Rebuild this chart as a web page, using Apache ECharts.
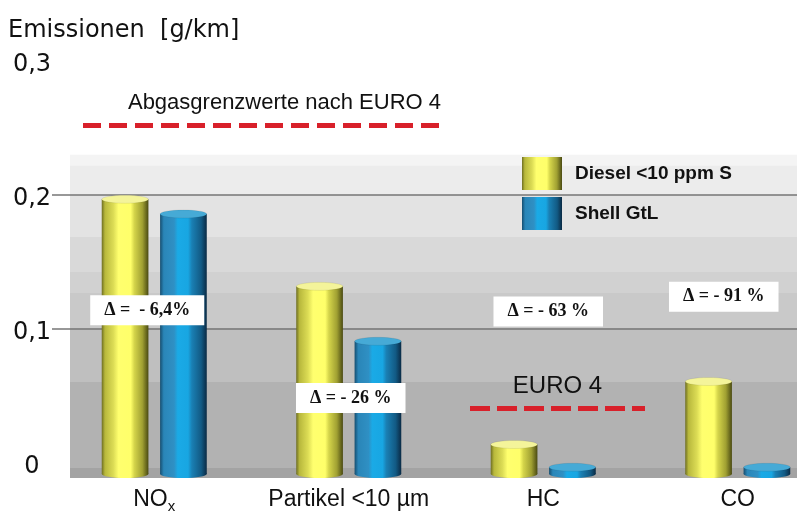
<!DOCTYPE html>
<html lang="de">
<head>
<meta charset="UTF-8">
<title>Emissionen Diesel vs. Shell GtL</title>
<script src="https://cdn.jsdelivr.net/npm/echarts@6/dist/echarts.min.js"></script>
<style>
html, body { margin: 0; padding: 0; background: #fff; }
#chart { width: 797px; height: 529px; }
</style>
</head>
<body>
<div id="chart"></div>
<script>
// data
const categories = ['NOx', 'Partikel <10 µm', 'HC', 'CO'];
const seriesNames = ['Diesel <10 ppm S', 'Shell GtL'];
const diesel = [0.211, 0.146, 0.028, 0.075];
const shell = [0.200, 0.105, 0.011, 0.011];
const yTicks = [0, 0.1, 0.2, 0.3];
const gridValues = [0.1, 0.2];
const deltaTexts = ['Δ =  - 6,4%', 'Δ = - 26 %', 'Δ = - 63 %', 'Δ = - 91 %'];
const deltaY = [0.114, 0.0485, 0.113, 0.124];
const euro4Nox = 0.252;
const euro4Low = 0.041;
const yMin = -0.0112;

// layout helpers (not data)
const labelShift = [-7, 2, 5, -14];
const bandEdges = [0.23, 0.222, 0.2, 0.1687, 0.1425, 0.1269, 0.1007, 0.0604, -0.0037, yMin];
const bandColors = ['#f4f4f4', '#ececec', '#e3e3e3', '#d9d9d9', '#d1d1d1', '#c9c9c9', '#bfbfbf', '#b2b2b2', '#a3a3a3'];

const yellowGrad = {
type: 'linear', x: 0, y: 0, x2: 1, y2: 0,
colorStops: [
{ offset: 0, color: '#6e6e22' }, { offset: 0.07, color: '#b8b83c' },
{ offset: 0.25, color: '#dcdc55' }, { offset: 0.36, color: '#ffff6e' },
{ offset: 0.62, color: '#ffff6a' }, { offset: 0.7, color: '#d4d44a' },
{ offset: 0.87, color: '#a0a032' }, { offset: 1, color: '#4a4a12' }
]
};
const blueGrad = {
type: 'linear', x: 0, y: 0, x2: 1, y2: 0,
colorStops: [
{ offset: 0, color: '#164e70' }, { offset: 0.08, color: '#2a86b8' },
{ offset: 0.3, color: '#2f90c4' }, { offset: 0.38, color: '#1aaae6' },
{ offset: 0.6, color: '#18a6e2' }, { offset: 0.68, color: '#1a80b4' },
{ offset: 0.88, color: '#125a84' }, { offset: 1, color: '#0a2a44' }
]
};
const yellowCap = '#f4f49a';
const blueCap = '#46aad6';

function cylinder(side, grad, cap) {
return function (params, api) {
const cat = api.value(0);
const val = api.value(1);
const band = api.size([1, 0])[0];
const w = band * 0.24;
const cx = api.coord([cat, 0])[0] + side * band * 0.15;
const base = api.coord([cat, 0])[1];
const depth = api.coord([cat, yMin])[1] - base;
const yTop = api.coord([cat, val])[1] + depth;
const yBot = base + depth;
const ry = 4;
return {
type: 'group',
children: [
{ type: 'ellipse', shape: { cx: cx, cy: yBot - ry, rx: w / 2, ry: ry }, style: { fill: grad } },
{ type: 'rect', shape: { x: cx - w / 2, y: yTop + ry, width: w, height: Math.max(yBot - yTop - 2 * ry, 0) }, style: { fill: grad } },
{ type: 'ellipse', shape: { cx: cx, cy: yTop + ry, rx: w / 2, ry: ry }, style: { fill: cap, stroke: 'rgba(0,0,0,0.15)', lineWidth: 0.5 } }
]
};
};
}

const bands = bandColors.map((c, i) => [
{ x: 70, yAxis: bandEdges[i], itemStyle: { color: c, opacity: 1 } },
{ yAxis: bandEdges[i + 1] }
]);

const gridLines = gridValues.map(v => [
{ x: 52, yAxis: v, lineStyle: { color: '#767676', width: 1.5, type: 'solid' }, label: { show: false } },
{ x: 797, yAxis: v }
]);

const chart = echarts.init(document.getElementById('chart'));
chart.setOption({
animation: false,
backgroundColor: '#fff',
title: {
text: 'Emissionen  [g/km]',
left: 8, top: 19, padding: 0,
textStyle: { fontFamily: 'DejaVu Sans', fontSize: 24, fontWeight: 'normal', color: '#111' }
},
legend: {
data: seriesNames,
orient: 'vertical',
left: 522, top: 157,
padding: 0,
icon: 'rect',
itemWidth: 40, itemHeight: 33, itemGap: 7,
textStyle: { fontFamily: 'Liberation Sans', fontWeight: 'bold', fontSize: 19, color: '#111', padding: [0, 0, 0, 8] }
},
grid: { left: 57, width: 778, top: 61, bottom: 51, outerBoundsMode: 'none' },
xAxis: {
type: 'category',
data: categories,
axisLine: { show: false },
axisTick: { show: false },
axisLabel: {
margin: 10,
formatter: v => v === 'NOx' ? '{b|NO}{s|x}' : '{b|' + v + '}',
rich: {
b: { fontFamily: 'Liberation Sans', fontSize: 23, color: '#111', lineHeight: 26, verticalAlign: 'top' },
s: { fontFamily: 'Liberation Sans', fontSize: 15, color: '#111', lineHeight: 15, verticalAlign: 'bottom', padding: [16, 0, 0, 0] }
}
}
},
yAxis: {
type: 'value',
min: yMin, max: 0.3,
axisLine: { show: false },
axisTick: { show: false, customValues: gridValues },
splitLine: { show: false },
axisLabel: {
customValues: yTicks,
margin: 25,
align: 'center',
formatter: v => '{t|' + String(v).replace('.', ',') + '}',
rich: {
t: { fontFamily: 'DejaVu Sans', fontSize: 24, color: '#111', padding: [8, 0, 0, 0] }
}
}
},
series: [
{
type: 'line',
data: [],
silent: true,
markArea: { silent: true, data: bands },
markLine: {
silent: true,
symbol: ['none', 'none'],
data: gridLines.concat([
[
{ x: 83, yAxis: euro4Nox, lineStyle: { color: '#d8202a', width: 5, type: [18, 8] },
label: { show: true, position: 'insideEndTop', distance: [-1, 11], formatter: 'Abgasgrenzwerte nach EURO 4', fontFamily: 'Liberation Sans', fontSize: 22, color: '#111' } },
{ x: 440, yAxis: euro4Nox }
],
[
{ x: 470, yAxis: euro4Low, lineStyle: { color: '#d8202a', width: 5, type: [20, 7] },
label: { show: true, position: 'insideMiddleTop', distance: 10, formatter: 'EURO 4', fontFamily: 'Liberation Sans', fontSize: 24, color: '#111' } },
{ x: 645, yAxis: euro4Low }
]
])
}
},
{
name: seriesNames[0],
type: 'custom',
z: 10,
itemStyle: { color: yellowGrad },
renderItem: cylinder(-1, yellowGrad, yellowCap),
encode: { x: 0, y: 1 },
data: diesel.map((v, i) => [i, v])
},
{
name: seriesNames[1],
type: 'custom',
z: 10,
itemStyle: { color: blueGrad },
renderItem: cylinder(1, blueGrad, blueCap),
encode: { x: 0, y: 1 },
data: shell.map((v, i) => [i, v])
},
{
type: 'scatter',
z: 20,
silent: true,
symbolSize: 0,
itemStyle: { opacity: 1 },
data: deltaY.map((v, i) => ({
value: [i, v],
label: { offset: [labelShift[i], 0] }
})),
label: {
show: true,
position: 'inside',
formatter: p => deltaTexts[p.dataIndex],
fontFamily: 'Liberation Serif', fontWeight: 'bold', fontSize: 18, color: '#111',
backgroundColor: '#fff',
opacity: 1,
padding: [6, 14]
}
}
]
});
</script>
</body>
</html>
